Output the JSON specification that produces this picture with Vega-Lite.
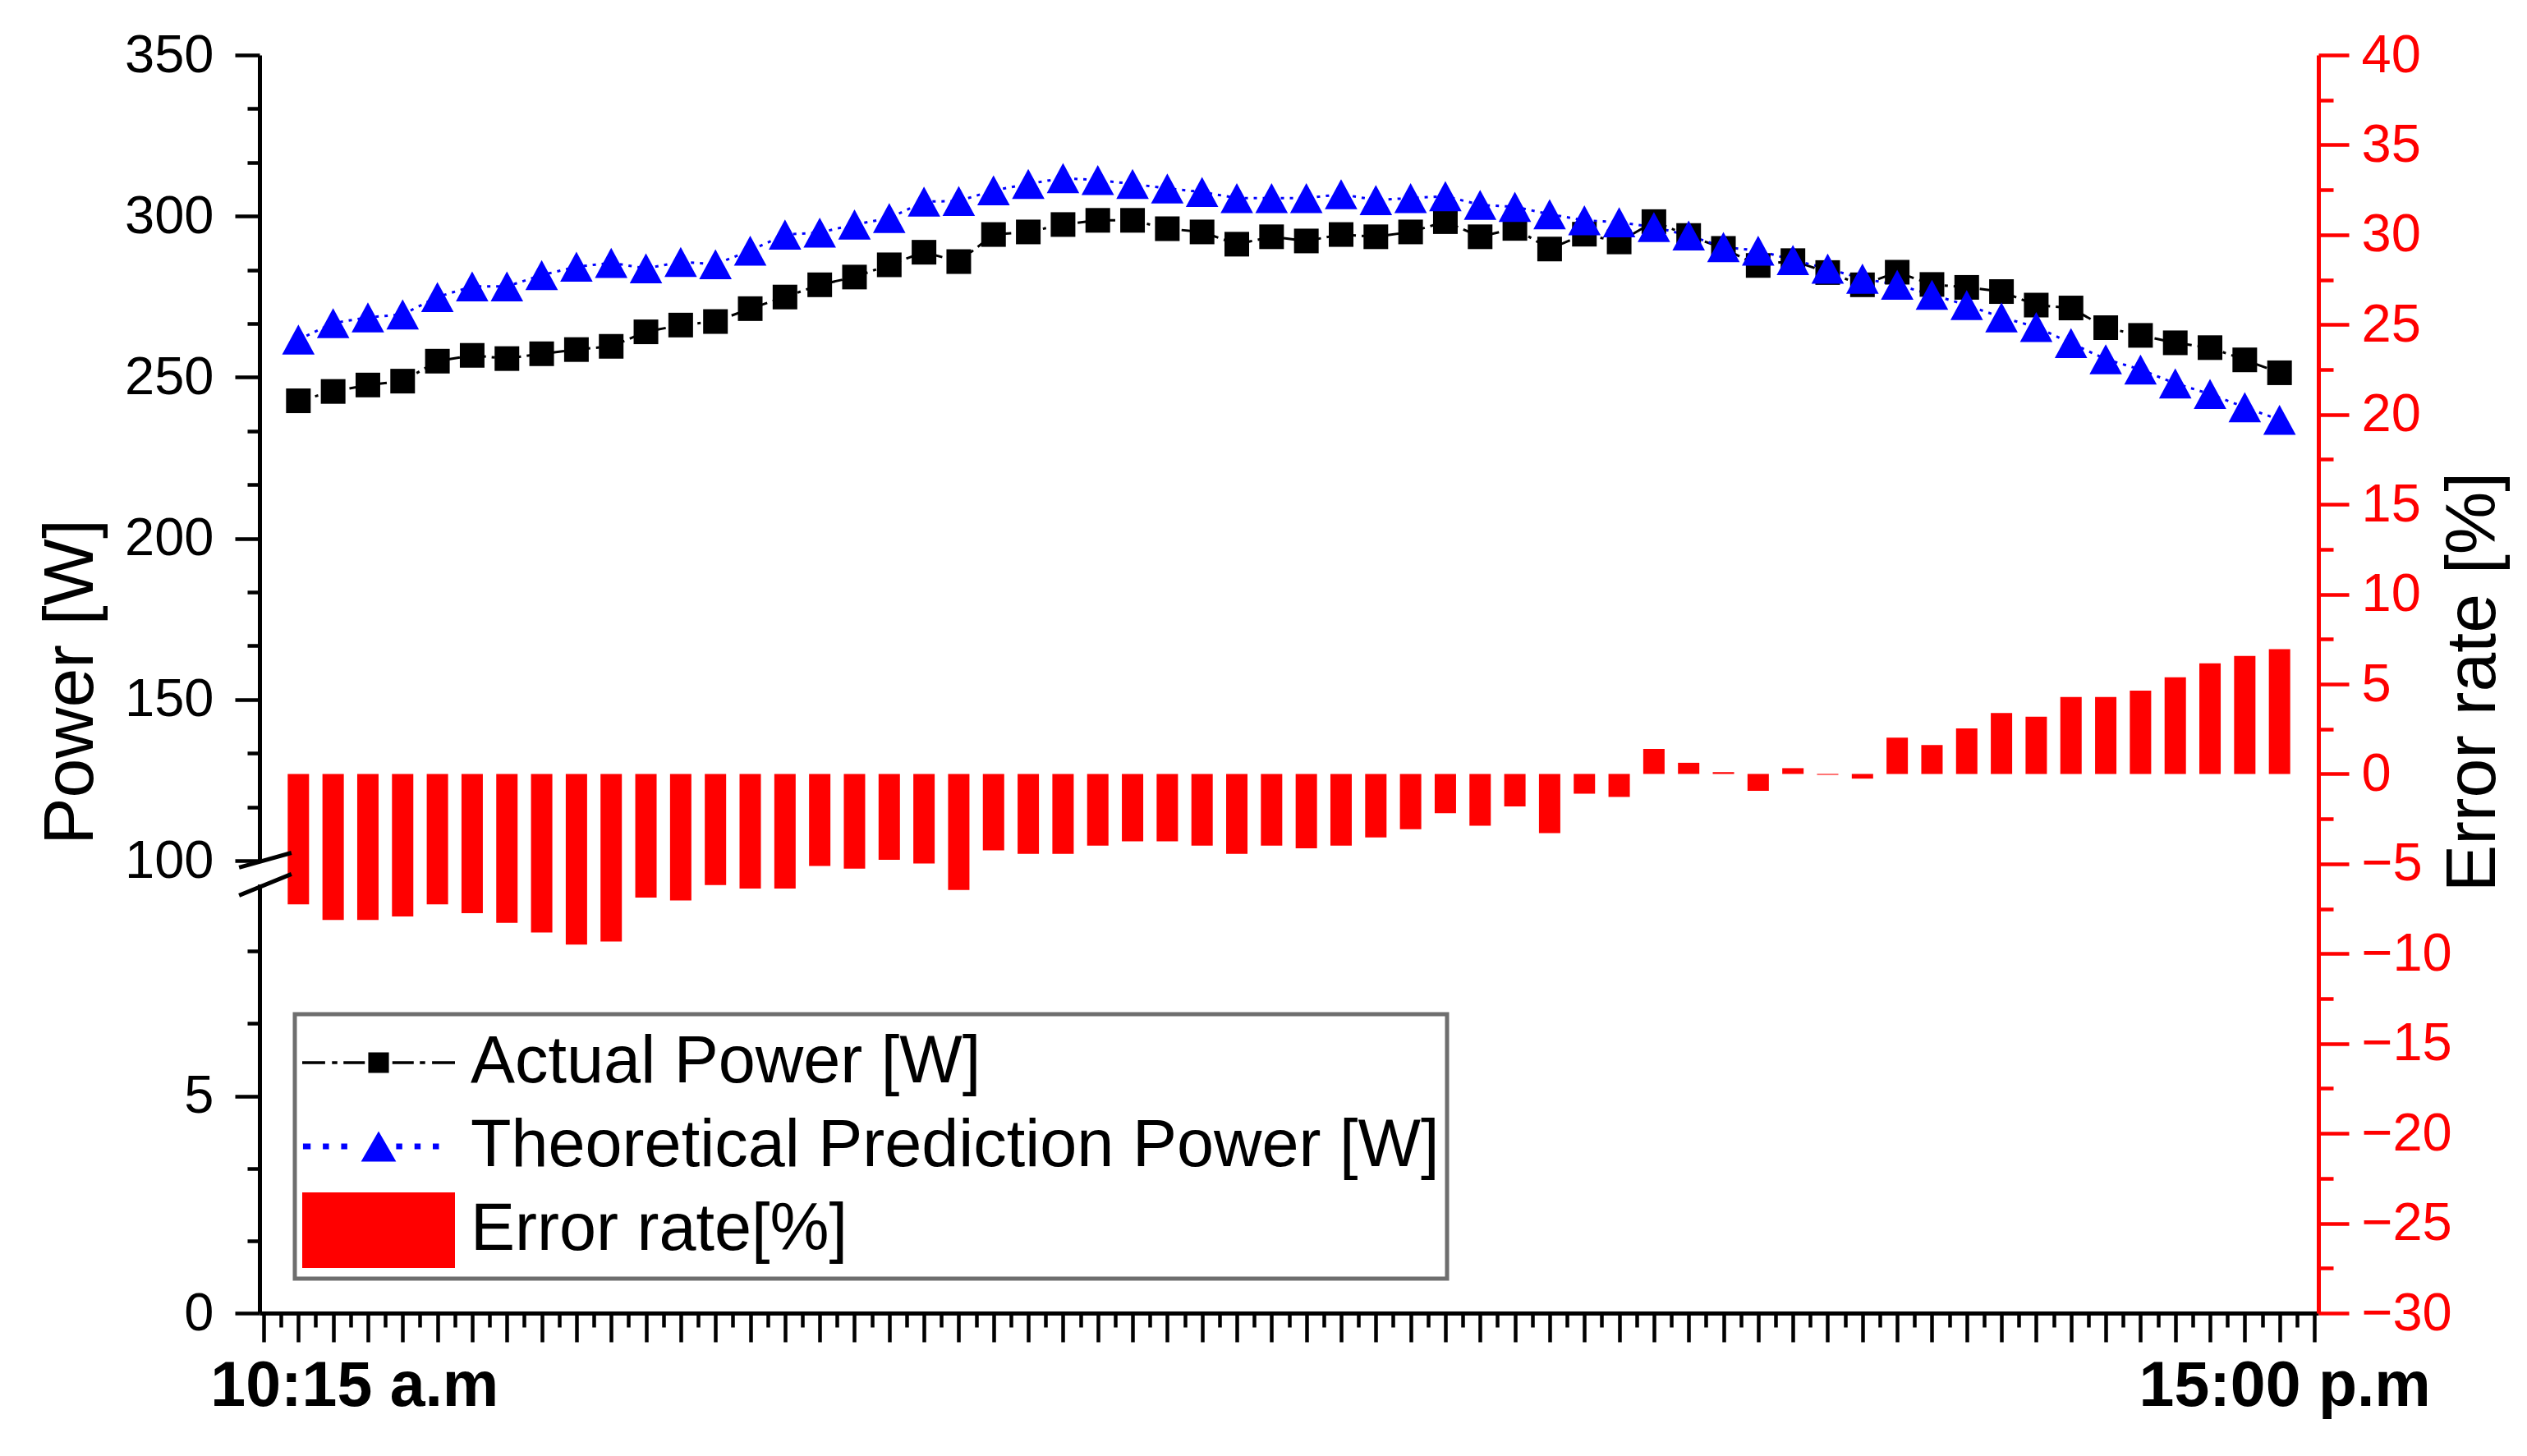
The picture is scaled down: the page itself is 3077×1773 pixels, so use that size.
{
  "$schema": "https://vega.github.io/schema/vega-lite/v6.json",
  "width": 2507,
  "height": 1532,
  "autosize": {"type": "none"},
  "padding": {"left": 316, "top": 67, "right": 254, "bottom": 174},
  "background": "white",
  "config": {"view": {"stroke": null}, "font": "Liberation Sans"},
  "data": {
    "values": [
      {"i": 0, "actual": 242.7, "theo": 261.7, "err": -7.26},
      {"i": 1, "actual": 245.6, "theo": 266.8, "err": -8.13},
      {"i": 2, "actual": 247.6, "theo": 268.6, "err": -8.13},
      {"i": 3, "actual": 248.8, "theo": 269.5, "err": -7.93},
      {"i": 4, "actual": 255.0, "theo": 274.9, "err": -7.26},
      {"i": 5, "actual": 256.8, "theo": 278.2, "err": -7.75},
      {"i": 6, "actual": 255.8, "theo": 278.2, "err": -8.28},
      {"i": 7, "actual": 257.3, "theo": 281.7, "err": -8.82},
      {"i": 8, "actual": 258.6, "theo": 284.3, "err": -9.50},
      {"i": 9, "actual": 259.6, "theo": 285.5, "err": -9.32},
      {"i": 10, "actual": 264.1, "theo": 283.8, "err": -6.88},
      {"i": 11, "actual": 266.2, "theo": 285.8, "err": -7.04},
      {"i": 12, "actual": 267.3, "theo": 285.1, "err": -6.18},
      {"i": 13, "actual": 271.3, "theo": 289.3, "err": -6.38},
      {"i": 14, "actual": 274.9, "theo": 294.3, "err": -6.38},
      {"i": 15, "actual": 278.7, "theo": 294.9, "err": -5.12},
      {"i": 16, "actual": 281.1, "theo": 297.4, "err": -5.27},
      {"i": 17, "actual": 284.9, "theo": 299.4, "err": -4.78},
      {"i": 18, "actual": 288.8, "theo": 304.5, "err": -4.98},
      {"i": 19, "actual": 285.9, "theo": 304.7, "err": -6.46},
      {"i": 20, "actual": 294.3, "theo": 308.0, "err": -4.25},
      {"i": 21, "actual": 295.1, "theo": 310.0, "err": -4.45},
      {"i": 22, "actual": 297.4, "theo": 311.8, "err": -4.45},
      {"i": 23, "actual": 298.7, "theo": 311.2, "err": -3.99},
      {"i": 24, "actual": 298.7, "theo": 310.0, "err": -3.75},
      {"i": 25, "actual": 296.1, "theo": 308.6, "err": -3.75},
      {"i": 26, "actual": 295.1, "theo": 307.5, "err": -3.99},
      {"i": 27, "actual": 291.3, "theo": 305.6, "err": -4.45},
      {"i": 28, "actual": 293.6, "theo": 305.6, "err": -3.99},
      {"i": 29, "actual": 292.3, "theo": 305.6, "err": -4.14},
      {"i": 30, "actual": 294.3, "theo": 306.8, "err": -3.99},
      {"i": 31, "actual": 293.6, "theo": 305.0, "err": -3.53},
      {"i": 32, "actual": 295.1, "theo": 305.6, "err": -3.08},
      {"i": 33, "actual": 298.3, "theo": 306.2, "err": -2.19},
      {"i": 34, "actual": 293.6, "theo": 303.5, "err": -2.88},
      {"i": 35, "actual": 296.2, "theo": 302.9, "err": -1.81},
      {"i": 36, "actual": 289.8, "theo": 300.6, "err": -3.29},
      {"i": 37, "actual": 294.4, "theo": 298.7, "err": -1.10},
      {"i": 38, "actual": 292.0, "theo": 298.1, "err": -1.28},
      {"i": 39, "actual": 298.3, "theo": 296.6, "err": 1.39},
      {"i": 40, "actual": 294.0, "theo": 294.0, "err": 0.62},
      {"i": 41, "actual": 290.0, "theo": 290.4, "err": 0.1},
      {"i": 42, "actual": 284.7, "theo": 289.3, "err": -0.94},
      {"i": 43, "actual": 286.2, "theo": 286.4, "err": 0.32},
      {"i": 44, "actual": 282.5, "theo": 283.7, "err": -0.05},
      {"i": 45, "actual": 278.7, "theo": 280.6, "err": -0.26},
      {"i": 46, "actual": 282.6, "theo": 278.7, "err": 2.02},
      {"i": 47, "actual": 278.8, "theo": 275.6, "err": 1.61},
      {"i": 48, "actual": 277.9, "theo": 272.4, "err": 2.53},
      {"i": 49, "actual": 276.6, "theo": 268.6, "err": 3.39},
      {"i": 50, "actual": 272.4, "theo": 265.6, "err": 3.18},
      {"i": 51, "actual": 271.5, "theo": 260.6, "err": 4.28},
      {"i": 52, "actual": 265.4, "theo": 255.6, "err": 4.28},
      {"i": 53, "actual": 263.0, "theo": 252.4, "err": 4.63},
      {"i": 54, "actual": 260.7, "theo": 248.1, "err": 5.38},
      {"i": 55, "actual": 259.2, "theo": 244.8, "err": 6.15},
      {"i": 56, "actual": 255.4, "theo": 240.7, "err": 6.56},
      {"i": 57, "actual": 251.4, "theo": 236.8, "err": 6.94}
    ]
  },
  "encoding": {
    "x": {
      "field": "i",
      "type": "quantitative",
      "title": null,
      "scale": {"domain": [-1, 58], "nice": false, "zero": false},
      "axis": {
        "values": [-1, -0.5, 0, 0.5, 1, 1.5, 2, 2.5, 3, 3.5, 4, 4.5, 5, 5.5, 6, 6.5, 7, 7.5, 8, 8.5, 9, 9.5, 10, 10.5, 11, 11.5, 12, 12.5, 13, 13.5, 14, 14.5, 15, 15.5, 16, 16.5, 17, 17.5, 18, 18.5, 19, 19.5, 20, 20.5, 21, 21.5, 22, 22.5, 23, 23.5, 24, 24.5, 25, 25.5, 26, 26.5, 27, 27.5, 28, 28.5, 29, 29.5, 30, 30.5, 31, 31.5, 32, 32.5, 33, 33.5, 34, 34.5, 35, 35.5, 36, 36.5, 37, 37.5, 38, 38.5, 39, 39.5, 40, 40.5, 41, 41.5, 42, 42.5, 43, 43.5, 44, 44.5, 45, 45.5, 46, 46.5, 47, 47.5, 48, 48.5, 49, 49.5, 50, 50.5, 51, 51.5, 52, 52.5, 53, 53.5, 54, 54.5, 55, 55.5, 56, 56.5, 57, 57.5, 58],
        "labelExpr": "datum.value == 0 ? '10:15 a.m' : datum.value == 57 ? '15:00 p.m' : ''",
        "grid": false,
        "domainColor": "black",
        "domainWidth": 5,
        "tickColor": "black",
        "tickWidth": 4.5,
        "tickSize": {"condition": {"test": "datum.value % 1 == 0", "value": 35}, "value": 17},
        "labelFont": "Liberation Sans",
        "labelFontSize": 77,
        "labelFontWeight": "bold",
        "labelColor": "black",
        "labelPadding": 16,
        "labelLimit": 1000,
        "labelOffset": {"condition": {"test": "datum.value == 0", "value": 68}, "value": 6},
        "labelOverlap": false,
        "labelFlush": false,
        "labelBound": false
      }
    }
  },
  "layer": [
    {
      "mark": {"type": "bar", "size": 26},
      "encoding": {
        "y": {
          "field": "err",
          "type": "quantitative",
          "scale": {"domain": [-30, 40], "nice": false, "zero": false},
          "axis": {
            "orient": "right",
            "title": "Error rate [%]",
            "titleFont": "Liberation Sans",
            "titleFontSize": 86,
            "titleFontWeight": "normal",
            "titleColor": "black",
            "titleAngle": 270,
            "titleAlign": "center",
            "titleBaseline": "alphabetic",
            "titleX": 214,
            "titleY": 763,
            "values": [-30, -27.5, -25, -22.5, -20, -17.5, -15, -12.5, -10, -7.5, -5, -2.5, 0, 2.5, 5, 7.5, 10, 12.5, 15, 17.5, 20, 22.5, 25, 27.5, 30, 32.5, 35, 37.5, 40],
            "labelExpr": "datum.value % 5 == 0 ? datum.label : ''",
            "grid": false,
            "domainColor": "#ff0000",
            "domainWidth": 5,
            "tickColor": "#ff0000",
            "tickWidth": 4.5,
            "tickSize": {"condition": {"test": "datum.value % 5 == 0", "value": 37}, "value": 18},
            "labelFont": "Liberation Sans",
            "labelFontSize": 65,
            "labelColor": "#ff0000",
            "labelPadding": 15,
            "labelOverlap": false
          }
        },
        "color": {
          "datum": "err",
          "type": "nominal",
          "title": null,
          "scale": {"domain": ["actual", "theo", "err"], "range": ["#000000", "#0000ff", "#ff0000"]},
          "legend": {
            "title": null,
            "orient": "none",
            "legendX": 43,
            "legendY": 1168,
            "direction": "vertical",
            "padding": 9,
            "fillColor": "white",
            "strokeColor": "#6e6e6e",
            "symbolSize": 34596,
            "clipHeight": 100,
            "rowPadding": 2,
            "symbolStrokeWidth": 0,
            "labelFont": "Liberation Sans",
            "labelFontSize": 81,
            "labelColor": "black",
            "labelOffset": 19,
            "labelLimit": 3000,
            "labelExpr": "datum.value == 'actual' ? 'Actual Power [W]' : datum.value == 'theo' ? 'Theoretical Prediction Power [W]' : 'Error rate[%]'",
            "encode": {
              "legend": {"update": {"strokeWidth": {"value": 5}}},
              "symbols": {
                "update": {
                  "shape": {"signal": "datum.value == 'actual' ? 'M-1,-0.02H-0.7V0.02H-1Z M-0.61,-0.02H-0.54V0.02H-0.61Z M-0.46,-0.02H-0.18V0.02H-0.46Z M-0.135,-0.135H0.135V0.135H-0.135Z M0.18,-0.02H0.46V0.02H0.18Z M0.54,-0.02H0.61V0.02H0.54Z M0.7,-0.02H1V0.02H0.7Z' : datum.value == 'theo' ? 'M-0.99,-0.038H-0.89V0.038H-0.99Z M-0.73,-0.038H-0.65V0.038H-0.73Z M-0.49,-0.038H-0.41V0.038H-0.49Z M0,-0.2L0.23,0.2H-0.23Z M0.23,-0.038H0.31V0.038H0.23Z M0.47,-0.038H0.55V0.038H0.47Z M0.71,-0.038H0.79V0.038H0.71Z' : 'M-1,-0.495H1V0.495H-1Z'"},
                  "fill": {"scale": "color", "field": "value"},
                  "opacity": {"value": 1},
                  "strokeWidth": {"value": 0}
                }
              }
            }
          }
        }
      }
    },
    {
      "encoding": {
        "y": {
          "field": "power",
          "type": "quantitative",
          "title": "Power [W]",
          "scale": {"domain": [-40.4, 350], "nice": false, "zero": false},
          "axis": {
            "orient": "left",
            "title": "Power [W]",
            "titleFont": "Liberation Sans",
            "titleFontSize": 86,
            "titleFontWeight": "normal",
            "titleColor": "black",
            "titleAngle": 270,
            "titleAlign": "center",
            "titleBaseline": "alphabetic",
            "titleX": -204,
            "titleY": 763,
            "values": [-40.4, -17.93, 4.53, 27, 49.47, 71.93, 100, 116.67, 133.33, 150, 166.67, 183.33, 200, 216.67, 233.33, 250, 266.67, 283.33, 300, 316.67, 333.33, 350],
            "labelExpr": "datum.value == -40.4 ? '0' : datum.value == 27 ? '5' : indexof([100, 150, 200, 250, 300, 350], datum.value) >= 0 ? format(datum.value, 'd') : ''",
            "grid": false,
            "domainColor": "black",
            "domainWidth": 5,
            "tickColor": "black",
            "tickWidth": 4.5,
            "tickSize": {"condition": {"test": "indexof([-40.4, 27, 100, 150, 200, 250, 300, 350], datum.value) >= 0", "value": 30}, "value": 15},
            "labelFont": "Liberation Sans",
            "labelFontSize": 65,
            "labelColor": "black",
            "labelPadding": 26,
            "labelOverlap": false
          }
        }
      },
      "layer": [
        {
          "transform": [{"fold": ["actual", "theo"], "as": ["series", "power"]}],
          "mark": {"type": "line", "strokeWidth": 3},
          "encoding": {
            "color": {"field": "series", "type": "nominal", "title": null},
            "strokeDash": {
              "field": "series",
              "type": "nominal",
              "scale": {"domain": ["actual", "theo"], "range": [[14, 7, 4, 7], [4, 7]]},
              "legend": null
            }
          }
        },
        {
          "transform": [{"fold": ["actual", "theo"], "as": ["series", "power"]}],
          "mark": {"type": "point", "filled": true, "opacity": 1, "size": 900},
          "encoding": {
            "color": {"field": "series", "type": "nominal", "title": null},
            "shape": {
              "field": "series",
              "type": "nominal",
              "scale": {"domain": ["actual", "theo"], "range": ["square", "M0,-1.22L1.32,1.22L-1.32,1.22Z"]},
              "legend": null
            },
            "order": {"field": "series"}
          }
        },
        {
          "data": {"values": [{"i": -1, "power": 92.6, "power2": 99.8}]},
          "mark": {"type": "rule", "color": "white", "strokeWidth": 14},
          "encoding": {"y2": {"field": "power2"}}
        },
        {
          "data": {
            "values": [
              {"i": -1.706, "i2": -0.2, "power": 97.87, "power2": 102.44},
              {"i": -1.706, "i2": -0.2, "power": 89.2, "power2": 95.83}
            ]
          },
          "mark": {"type": "rule", "color": "black", "strokeWidth": 5},
          "encoding": {"x2": {"field": "i2"}, "y2": {"field": "power2"}}
        }
      ]
    }
  ],
  "resolve": {"scale": {"y": "independent"}}
}
